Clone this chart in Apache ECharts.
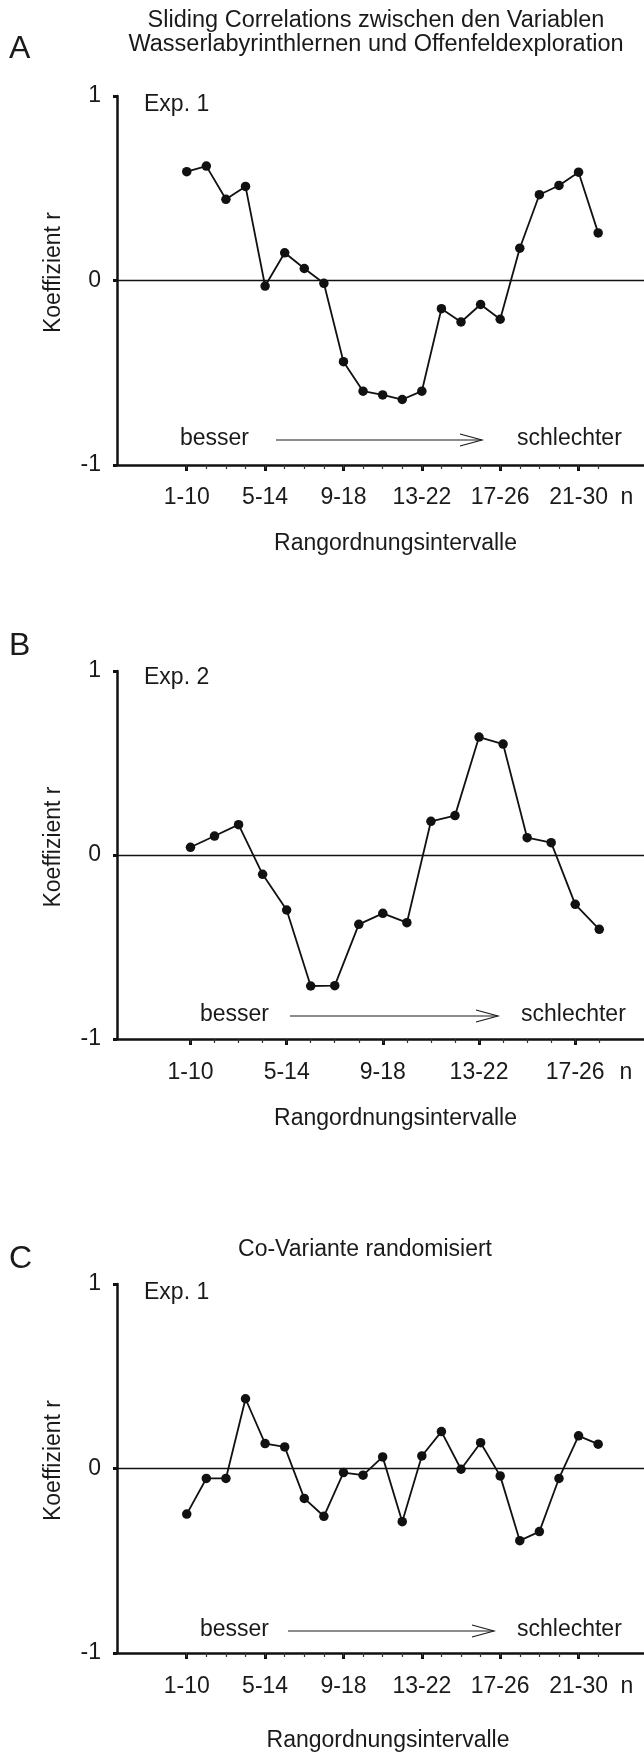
<!DOCTYPE html>
<html>
<head>
<meta charset="utf-8">
<script src="https://cdn.jsdelivr.net/npm/echarts@6/dist/echarts.min.js"></script>
<style>
  html, body { margin: 0; padding: 0; background: #fff; }
  #chart { width: 644px; height: 1753px; }
</style>
</head>
<body>
<div id="chart"></div>
<script>
// Sliding correlation coefficients r per rank-order interval
const intervalLabels30 = ['1-10', '5-14', '9-18', '13-22', '17-26', '21-30'];
const intervalLabels26 = ['1-10', '5-14', '9-18', '13-22', '17-26'];
const yTickValues = [-1, 0, 1];

// A: Exp. 1, water maze learning vs. open field exploration
const rExp1 = [0.59, 0.62, 0.44, 0.51, -0.03, 0.15, 0.065, -0.015, -0.44, -0.60, -0.62,
               -0.645, -0.60, -0.153, -0.225, -0.13, -0.21, 0.175, 0.465, 0.515, 0.587, 0.258];
// B: Exp. 2
const rExp2 = [0.042, 0.103, 0.165, -0.105, -0.299, -0.712, -0.71, -0.377, -0.317, -0.368,
               0.183, 0.214, 0.641, 0.603, 0.094, 0.067, -0.268, -0.404];
// C: Exp. 1 with randomised co-variate
const rRandom = [-0.247, -0.054, -0.054, 0.378, 0.135, 0.117, -0.162, -0.259, -0.022, -0.036,
                 0.063, -0.288, 0.068, 0.2, -0.004, 0.14, -0.04, -0.391, -0.342, -0.054, 0.177, 0.132];

const FONT = '"Liberation Sans", Arial, Helvetica, sans-serif';
const INK = '#111';
const TEXT = '#1a1a1a';

// layout of the three panels (pixel frame of each plot area, x-range in interval steps)
const panels = [
  { values: rExp1, labels: intervalLabels30, top: 96, bottom: 465, min: -3.56, max: 23.34, nPos: 22.47,
    labelMargin: 21, nameGap: 67, namePad: 30 },
  { values: rExp2, labels: intervalLabels26, top: 671, bottom: 1039, min: -3.055, max: 18.86, nPos: 18.11,
    labelMargin: 22, nameGap: 68, namePad: 30 },
  { values: rRandom, labels: intervalLabels30, top: 1284, bottom: 1654, min: -3.56, max: 23.34, nPos: 22.47,
    labelMargin: 22, nameGap: 76, namePad: 15 }
];
const AXIS_LEFT = 117;
const H = 1753;

const grid = [], xAxis = [], yAxis = [], series = [];
panels.forEach((p, i) => {
  grid.push({ left: AXIS_LEFT, right: 0, top: p.top, bottom: H - p.bottom, containLabel: false });
  const allIdx = p.values.map((_, k) => k);
  const majorIdx = p.labels.map((_, k) => k * 4);
  // main x axis: line, major ticks, interval labels and the "n" unit
  xAxis.push({
    type: 'value', gridIndex: i, min: p.min, max: p.max, position: 'bottom',
    axisLine: { show: true, onZero: false, lineStyle: { color: INK, width: 2.5 } },
    axisTick: { show: true, customValues: majorIdx, length: 6, lineStyle: { color: INK, width: 3 } },
    axisLabel: {
      show: true, customValues: majorIdx.concat([p.nPos]), margin: p.labelMargin,
      fontSize: 23, fontFamily: FONT, color: TEXT,
      formatter: (v) => {
        if (Math.abs(v - p.nPos) < 1e-6) return 'n';
        const k = Math.round(v / 4);
        return p.labels[k] !== undefined ? p.labels[k] : '';
      }
    },
    splitLine: { show: false },
    name: 'Rangordnungsintervalle', nameLocation: 'middle', nameGap: p.nameGap,
    nameTextStyle: { fontSize: 23, fontFamily: FONT, color: TEXT, padding: [0, 0, 0, p.namePad] }
  });
  // second x axis on the same grid: small tick for every interval
  xAxis.push({
    type: 'value', gridIndex: i, min: p.min, max: p.max, position: 'bottom',
    axisLine: { show: false, onZero: false },
    axisTick: { show: true, customValues: allIdx, length: 4, lineStyle: { color: '#333', width: 1.2 } },
    axisLabel: { show: false },
    splitLine: { show: false }
  });
  yAxis.push({
    type: 'value', gridIndex: i, min: -1, max: 1, interval: 1,
    axisLine: { show: true, onZero: false, lineStyle: { color: INK, width: 2.5 } },
    axisTick: { show: true, customValues: yTickValues, length: 4, lineStyle: { color: INK, width: 3 } },
    axisLabel: { margin: 16, fontSize: 23, fontFamily: FONT, color: TEXT },
    splitLine: { show: false },
    name: 'Koeffizient r', nameLocation: 'middle', nameRotate: 90, nameGap: 52,
    nameTextStyle: { fontSize: 23, fontFamily: FONT, color: TEXT, padding: [0, 0, 0, 16] }
  });
  series.push({
    type: 'line', xAxisIndex: i * 2, yAxisIndex: i,
    data: p.values.map((v, k) => [k, v]),
    symbol: 'circle', symbolSize: 9.5,
    itemStyle: { color: INK },
    lineStyle: { color: INK, width: 1.8 },
    z: 3,
    markLine: {
      silent: true, symbol: 'none', label: { show: false },
      lineStyle: { color: INK, width: 1.4, type: 'solid' },
      data: [{ yAxis: 0 }]
    }
  });
});

function txt(text, x, y, size, align) {
  return {
    type: 'text', x: x, y: y, silent: true,
    style: {
      text: text, font: size + 'px ' + FONT, fill: TEXT,
      textAlign: align || 'left', textVerticalAlign: 'middle',
      align: align || 'left', verticalAlign: 'middle'
    }
  };
}
function arrow(x0, x1, y) {
  return [
    { type: 'line', silent: true, shape: { x1: x0, y1: y, x2: x1, y2: y },
      style: { stroke: TEXT, lineWidth: 1.1 } },
    { type: 'polyline', silent: true,
      shape: { points: [[x1 - 22, y - 6], [x1, y], [x1 - 22, y + 6]] },
      style: { stroke: TEXT, lineWidth: 1.1, fill: null } }
  ];
}

const graphic = [
  txt('Sliding Correlations zwischen den Variablen', 376, 21, 23.5, 'center'),
  txt('Wasserlabyrinthlernen und Offenfeldexploration', 376, 45, 23.5, 'center'),
  txt('A', 9, 49, 32),
  txt('Exp. 1', 144, 105, 23),
  txt('besser', 180, 439, 23),
  txt('schlechter', 517, 439, 23),
  ...arrow(276, 482, 440),

  txt('B', 9, 646, 32),
  txt('Exp. 2', 144, 678, 23),
  txt('besser', 200, 1015, 23),
  txt('schlechter', 521, 1015, 23),
  ...arrow(290, 498, 1016),

  txt('Co-Variante randomisiert', 365, 1250, 23, 'center'),
  txt('C', 9, 1259, 32),
  txt('Exp. 1', 144, 1293, 23),
  txt('besser', 200, 1630, 23),
  txt('schlechter', 517, 1630, 23),
  ...arrow(288, 494, 1631)
];

const chart = echarts.init(document.getElementById('chart'), null, { renderer: 'canvas' });
chart.setOption({
  animation: false,
  backgroundColor: '#fff',
  grid: grid, xAxis: xAxis, yAxis: yAxis, series: series,
  graphic: graphic
});
</script>
</body>
</html>
